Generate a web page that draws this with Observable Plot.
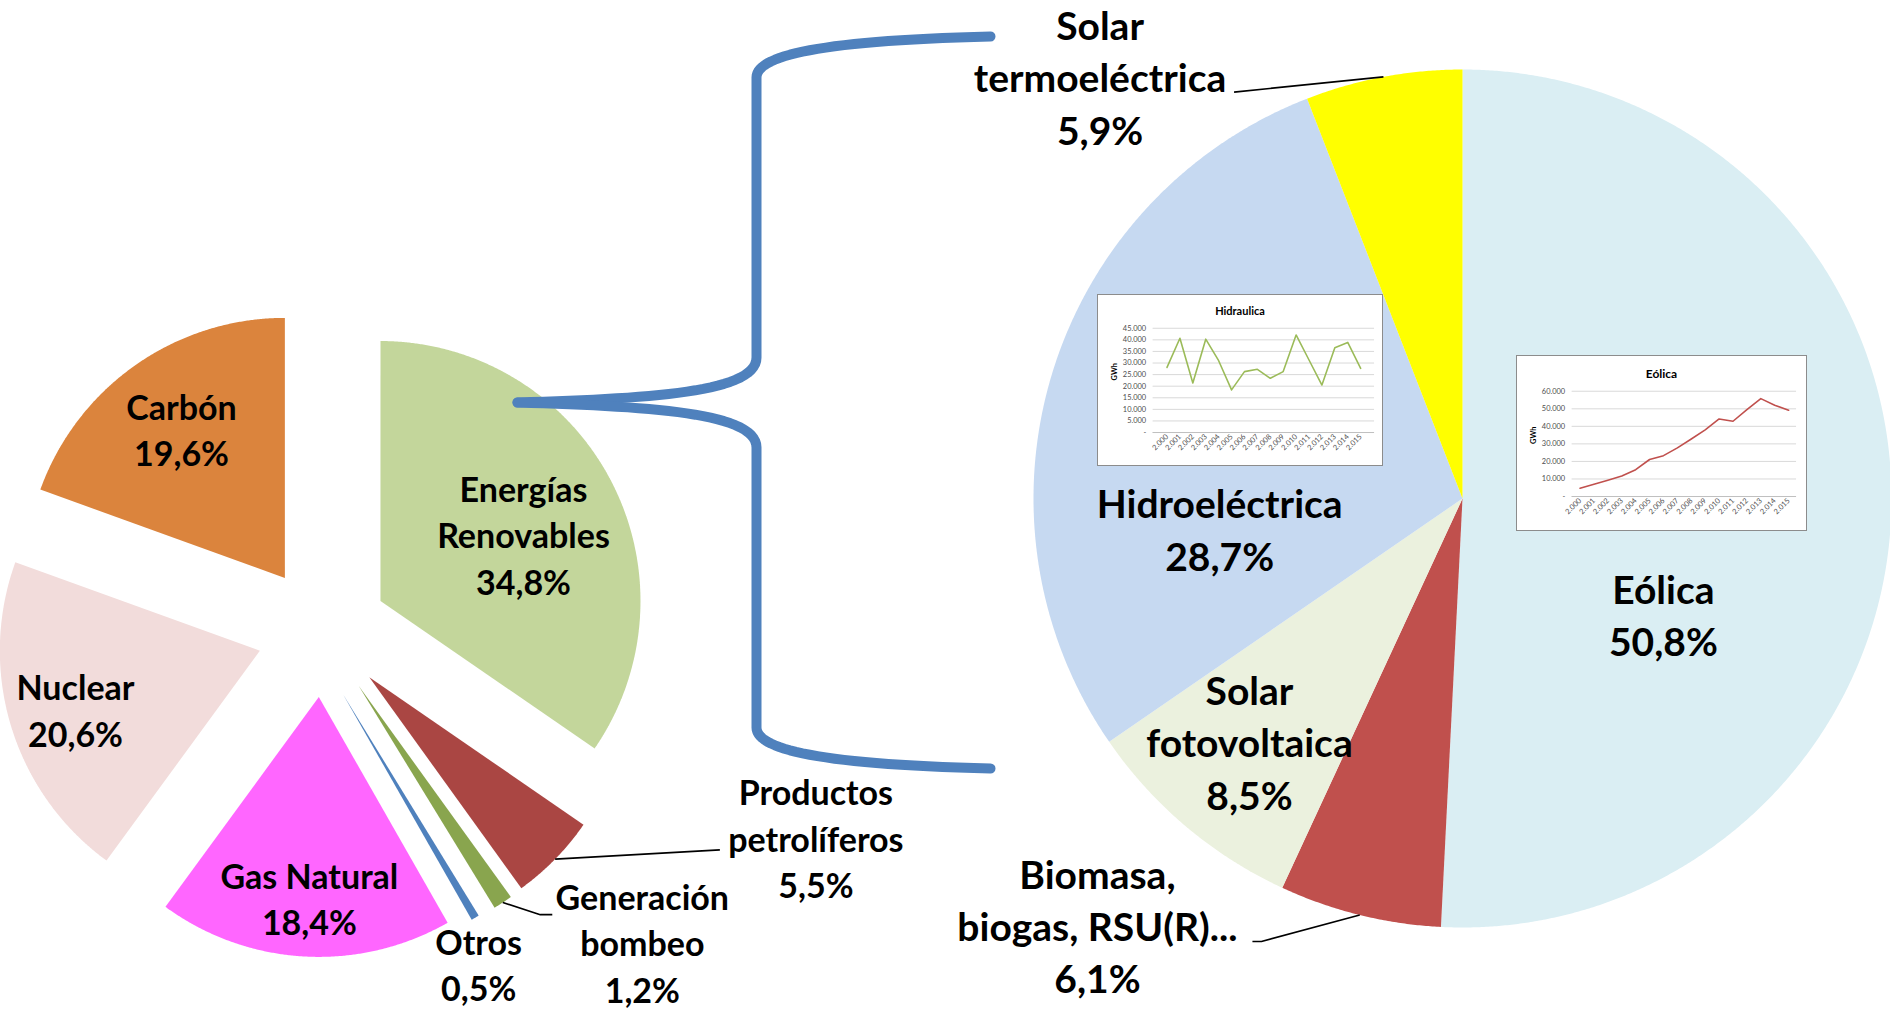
<!DOCTYPE html>
<html>
<head>
<meta charset="utf-8">
<script src="https://cdn.jsdelivr.net/npm/d3@7"></script>
<script src="https://cdn.jsdelivr.net/npm/@observablehq/plot@0.6"></script>
<style>
  body { margin: 0; background: #fff; }
  #wrap { position: relative; width: 1890px; height: 1010px; overflow: hidden; font-family: Lato, "Open Sans", sans-serif; }
  #wrap > svg { position: absolute; left: 0; top: 0; }
  .inset { position: absolute; background: #fff; border: 1px solid #8c8c8c; box-sizing: border-box; overflow: hidden; }
  .inset .ttl { position: absolute; left: 0; right: 0; text-align: center; font-weight: 700; color: #000; line-height: 1; }
  .inset svg { position: absolute; left: 0; top: 0; }
</style>
</head>
<body>
<div id="wrap"></div>
<script>
// ---------------- DATA ----------------
// Mix de generación (pie izquierdo), en orden horario desde las 12
const mixCategories = ["Energías\nRenovables", "Productos\npetrolíferos", "Generación\nbombeo", "Otros", "Gas Natural", "Nuclear", "Carbón"];
const mixValues = [34.8, 5.5, 1.2, 0.5, 18.4, 20.6, 19.6];
const mixColors = ["#C3D69B", "#AA4643", "#89A54E", "#4F81BD", "#FF66FF", "#F2DCDB", "#DB843D"];

// Desglose de renovables (pie derecho)
const renCategories = ["Eólica", "Biomasa,\nbiogas, RSU(R)...", "Solar\nfotovoltaica", "Hidroeléctrica", "Solar\ntermoeléctrica"];
const renValues = [50.8, 6.1, 8.5, 28.7, 5.9];
const renColors = ["#DAEEF3", "#C0504D", "#EBF1DE", "#C6D9F1", "#FFFF00"];

// Series anuales (GWh)
const years = [2000, 2001, 2002, 2003, 2004, 2005, 2006, 2007, 2008, 2009, 2010, 2011, 2012, 2013, 2014, 2015];
const hidraulicaGWh = [28100, 40700, 21400, 40300, 31000, 18400, 26300, 27300, 23400, 26300, 42100, 31300, 20500, 36600, 38900, 27700];
const eolicaGWh = [4700, 7000, 9300, 11700, 15300, 21100, 23300, 27700, 32800, 38000, 44200, 42900, 49500, 55800, 52000, 49200];

const hidraulicaTicks = [0, 5000, 10000, 15000, 20000, 25000, 30000, 35000, 40000, 45000];
const eolicaTicks = [0, 10000, 20000, 30000, 40000, 50000, 60000];

// ---------------- LAYOUT ----------------
const W = 1890, H = 1010;
const FONT = "Lato, 'Open Sans', sans-serif";
const leftPie = {cx: 322, cy: 631, r: 260, explode: 65.5};
const rightPie = {cx: 1462, cy: 498, r: 429, explode: 0};
// extra nudge of individual exploded slices (px)
const mixNudge = [[0, 0], [0, 0], [0, 0], [-13, 6], [0, 0], [0, 0], [0, 0]];
const renNudge = [[0, 0], [0, 0], [0, 0], [0, 0], [0, 0]];
// label placement: [angle in degrees clockwise from 12 o'clock, distance as fraction of radius]
const mixLabelPolar = [[64.7, 0.855], [112.9, 2.06], [134.4, 1.7215], [155.0, 1.421], [182.8, 1.034], [252.0, 0.999], [324.8, 0.941]];
const renLabelPolar = [[120.4, 0.543], [220.4, 1.313], [221.0, 0.757], [262.4, 0.571], [319.2, 1.293]];
// leader line bends, relative to label centre
const mixLeaders = {1: [[-96, 10]], 2: [[-102, -30], [-90, -30]]};
const renLeaders = {1: [[164, 14], [155, 14]], 4: [[134, 13.5]]};
const brace = {tipX: 517, stemX: 756, endX: 990, top: 36, bottom: 768};

const pct = v => v.toFixed(1).replace(".", ",") + "%";
const fmtDot = d3.formatLocale({decimal: ",", thousands: ".", grouping: [3], currency: ["", ""]}).format(",d");

function buildPie(values, colors, names, G, labelPolar, leaders, nudge) {
  const arcs = d3.pie().sort(null).value(d => d)(values);
  const slices = [], labels = [], leaderPts = [];
  arcs.forEach((a, i) => {
    const mid = (a.startAngle + a.endAngle) / 2;
    const ox = G.cx + G.explode * Math.sin(mid) + nudge[i][0], oy = G.cy - G.explode * Math.cos(mid) + nudge[i][1];
    const n = Math.max(4, Math.ceil((a.endAngle - a.startAngle) / 0.005));
    const pts = [{x: ox, y: oy}];
    for (let k = 0; k <= n; k++) {
      const t = a.startAngle + (a.endAngle - a.startAngle) * k / n;
      pts.push({x: ox + G.r * Math.sin(t), y: oy - G.r * Math.cos(t)});
    }
    pts.push({x: ox, y: oy});
    slices.push({pts, color: colors[i]});
    const [ang, f] = labelPolar[i];
    const th = ang * Math.PI / 180;
    const lx = G.cx + f * G.r * Math.sin(th), ly = G.cy - f * G.r * Math.cos(th);
    labels.push({x: lx, y: ly, text: names[i] + "\n" + pct(values[i])});
    if (leaders[i]) {
      const id = "L" + G.cx + "_" + i;
      leaderPts.push({id, x: ox + G.r * Math.sin(mid), y: oy - G.r * Math.cos(mid)});
      leaders[i].forEach(([dx, dy]) => leaderPts.push({id, x: lx + dx, y: ly + dy}));
    }
  });
  return {slices, labels, leaderPts};
}

const left = buildPie(mixValues, mixColors, mixCategories, leftPie, mixLabelPolar, mixLeaders, mixNudge);
const right = buildPie(renValues, renColors, renCategories, rightPie, renLabelPolar, renLeaders, renNudge);

// curly brace joining the renewables slice to the breakdown (cubic Bézier pieces)
function bez(p0, p1, p2, p3, n) {
  const out = [];
  for (let k = 0; k <= n; k++) {
    const t = k / n, u = 1 - t;
    out.push([u*u*u*p0[0] + 3*u*u*t*p1[0] + 3*u*t*t*p2[0] + t*t*t*p3[0],
              u*u*u*p0[1] + 3*u*u*t*p1[1] + 3*u*t*t*p2[1] + t*t*t*p3[1]]);
  }
  return out;
}
const midY = (brace.top + brace.bottom) / 2;
const half = midY - brace.top;
function braceArm(sign) {
  const Y = d => midY + sign * d;
  const s = brace.stemX, e = brace.endX, t = brace.tipX;
  return [
    ...bez([t, Y(0)], [t + 133, Y(-4)], [s, Y(-10)], [s, Y(-45)], 30),
    ...bez([s, Y(-45)], [s, Y(-120)], [s, Y(-250)], [s, Y(-(half - 41))], 4),
    ...bez([s, Y(-(half - 41))], [s, Y(-(half - 19))], [s + 64, Y(-(half - 4))], [e, Y(-half)], 30)
  ];
}
const bracePts = [];
braceArm(1).forEach(([x, y]) => bracePts.push({arm: "top", x, y}));
braceArm(-1).forEach(([x, y]) => bracePts.push({arm: "bottom", x, y}));

const mainPlot = Plot.plot({
  width: W, height: H, margin: 0,
  x: {domain: [0, W], range: [0, W], axis: null},
  y: {domain: [0, H], range: [0, H], axis: null},
  style: {background: "transparent", fontFamily: FONT, color: "#000"},
  marks: [
    ...left.slices.map(s => Plot.line(s.pts, {x: "x", y: "y", fill: s.color, stroke: "none"})),
    ...right.slices.map(s => Plot.line(s.pts, {x: "x", y: "y", fill: s.color, stroke: "none"})),
    Plot.line(bracePts, {x: "x", y: "y", z: "arm", stroke: "#4F81BD", strokeWidth: 10, curve: "linear", strokeLinecap: "round", strokeLinejoin: "round"}),
    Plot.line(left.leaderPts.concat(right.leaderPts), {x: "x", y: "y", z: "id", stroke: "#000", strokeWidth: 1.6, strokeLinecap: "butt"}),
    Plot.text(left.labels, {x: "x", y: "y", text: "text", dy: -3, fontSize: 34, fontWeight: 700, lineHeight: 1.36, fill: "#000"}),
    Plot.text(right.labels, {x: "x", y: "y", text: "text", dy: -3, fontSize: 39, fontWeight: 700, lineHeight: 1.34, fill: "#000"})
  ]
});

const wrap = document.getElementById("wrap");
wrap.appendChild(mainPlot);

// ---------------- INSET LINE CHARTS ----------------
function inset({title, values, ticks, color, left, top, w, h, m, titleY, titleSize}) {
  const div = document.createElement("div");
  div.className = "inset";
  Object.assign(div.style, {left: left + "px", top: top + "px", width: w + "px", height: h + "px"});
  const data = years.map((yr, i) => ({year: yr, v: values[i]}));
  const chart = Plot.plot({
    width: w, height: h,
    marginLeft: m[0], marginRight: m[1], marginTop: m[2], marginBottom: m[3],
    style: {background: "transparent", fontFamily: FONT, fontSize: "7.5px", color: "#4d4d4d"},
    x: {type: "point", domain: years, padding: 0.5, tickRotate: -45, tickSize: 0, tickPadding: 3, tickFormat: fmtDot, label: null},
    y: {domain: [0, ticks[ticks.length - 1]], ticks: ticks, tickSize: 0, tickPadding: 7, tickFormat: d => d === 0 ? "-" : fmtDot(d), label: null},
    marks: [
      Plot.ruleY(ticks, {stroke: "#D9D9D9", strokeWidth: 1}),
      Plot.ruleY([0], {stroke: "#BFBFBF", strokeWidth: 1}),
      Plot.text(["GWh"], {frameAnchor: "left", dx: -(m[0] - 16), rotate: -90, fontWeight: 700, fontSize: 7.5, fill: "#000"}),
      Plot.line(data, {x: "year", y: "v", stroke: color, strokeWidth: 1.6})
    ]
  });
  div.appendChild(chart);
  const t = document.createElement("div");
  t.className = "ttl";
  t.textContent = title;
  Object.assign(t.style, {top: (titleY - titleSize / 2) + "px", fontSize: titleSize + "px"});
  div.appendChild(t);
  wrap.appendChild(div);
}

inset({title: "Hidraulica", values: hidraulicaGWh, ticks: hidraulicaTicks, color: "#9BBB59",
  left: 1097, top: 294, w: 286, h: 172, m: [55, 8, 33, 34], titleY: 15, titleSize: 11});
inset({title: "Eólica", values: eolicaGWh, ticks: eolicaTicks, color: "#C0504D",
  left: 1516, top: 355, w: 291, h: 176, m: [55, 10, 35, 35], titleY: 18, titleSize: 12});
</script>
</body>
</html>
